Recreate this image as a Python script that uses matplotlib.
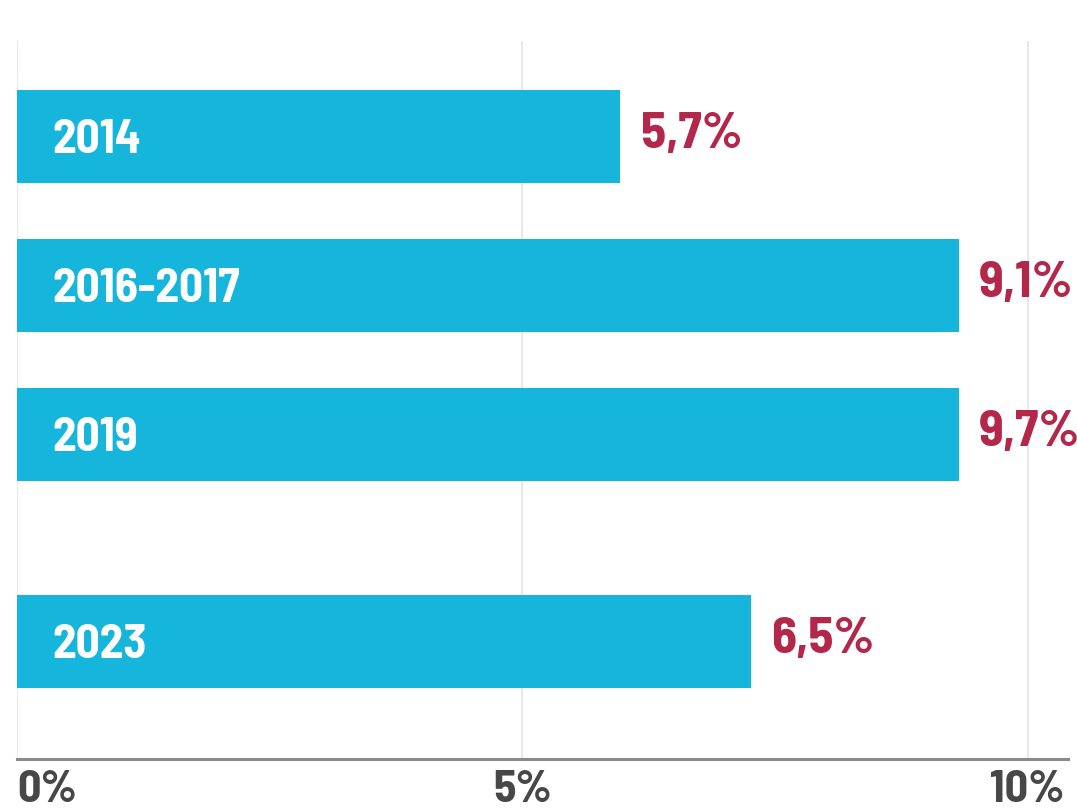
import matplotlib
matplotlib.use('Agg')
import matplotlib.pyplot as plt
from matplotlib import font_manager

# données
periods = ["2014", "2016-2017", "2019", "2023"]
bar_lengths = [5.97, 9.32, 9.32, 7.26]   # longueur visible des barres (en %)
value_labels = ["5,7%", "9,1%", "9,7%", "6,5%"]
x_ticks = [0, 5, 10]
x_tick_labels = ["0%", "5%", "10%"]

# police étroite, la première disponible
names = {f.name for f in font_manager.fontManager.ttflist}
candidates = ["Barlow Semi Condensed", "Roboto Condensed", "Encode Sans Condensed",
              "Barlow Condensed", "DejaVu Sans"]
font = next(c for c in candidates if c in names)

bar_color = "#15B5DC"
label_color = "#B3284A"
tick_color = "#474747"

fig = plt.figure(figsize=(10.77, 8.12), dpi=100)
ax = fig.add_axes([17 / 1077, (812 - 760) / 812, 1051 / 1077, (760 - 42) / 812])

# l'écart plus grand avant 2023
y_pos = [0, 1, 2, 3.39]
ax.barh(y_pos, bar_lengths, height=0.625, color=bar_color, zorder=2)

for y, name, length, lab in zip(y_pos, periods, bar_lengths, value_labels):
    ax.text(0.35, y + 0.02, name, color="white", fontsize=34, fontweight="bold",
            family=font, va="center", ha="left", zorder=3)
    ax.text(length + 0.2, y - 0.02, lab, color=label_color, fontsize=37, fontweight="bold",
            family=font, va="center", ha="left", zorder=3)

ax.set_xlim(0, 10.4)
ax.set_ylim(4.18, -0.638)

for t in x_ticks:
    ax.axvline(t, color="#e4e4e4", lw=1.2, zorder=1)

for s in ["top", "right", "left"]:
    ax.spines[s].set_visible(False)
ax.spines["bottom"].set_color("#8a8a8a")
ax.spines["bottom"].set_linewidth(2.2)

ax.set_yticks([])
ax.set_xticks(x_ticks)
ax.set_xticklabels(x_tick_labels, fontsize=33, fontweight="bold", family=font, color=tick_color)
ax.tick_params(axis="x", length=0, pad=7)
# le premier libellé commence au bord gauche
ax.get_xticklabels()[0].set_horizontalalignment("left")

fig.savefig("out.png", dpi=100, facecolor="white")
